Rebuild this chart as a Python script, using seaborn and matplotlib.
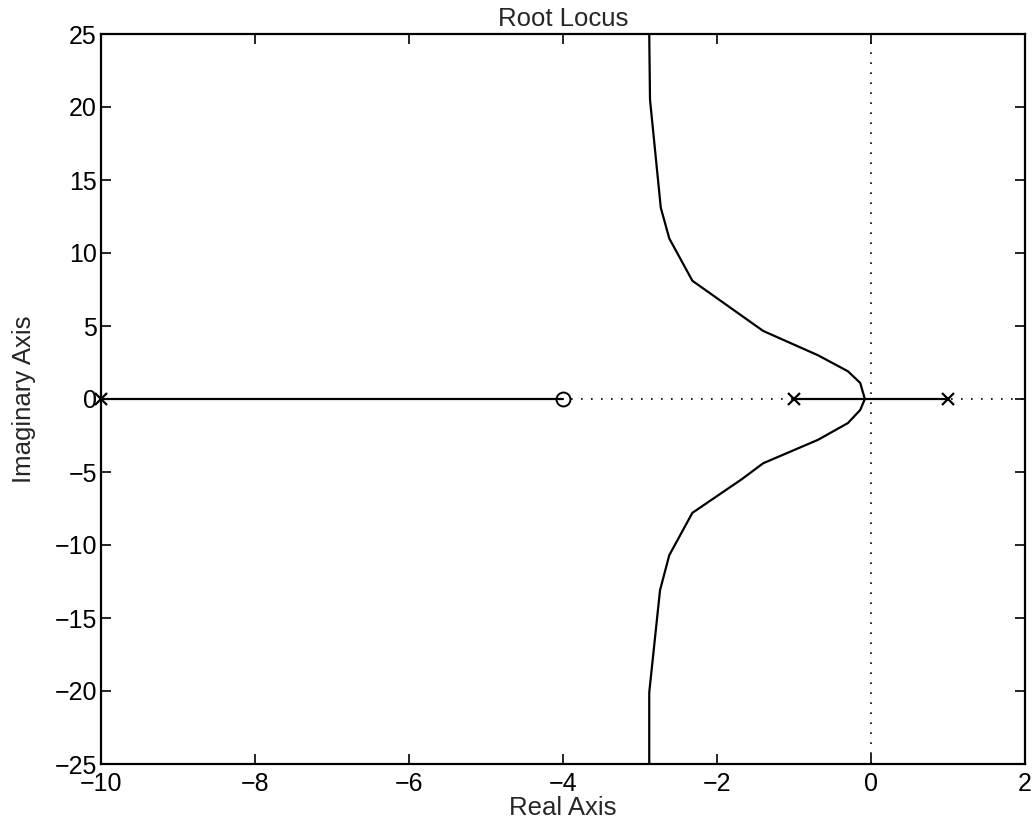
import matplotlib
matplotlib.use("Agg")
import matplotlib.pyplot as plt
import seaborn as sns
import pandas as pd

# Data
upper_re = [-2.88, -2.87, -2.73, -2.62, -2.32, -1.40, -0.69, -0.30, -0.14, -0.08]
upper_im = [25.0, 20.5, 13.1, 11.0, 8.1, 4.66, 3.0, 1.9, 1.1, 0.0]
lower_re = [-0.08, -0.14, -0.30, -0.69, -1.40, -1.68, -2.32, -2.62, -2.74, -2.88, -2.88]
lower_im = [0.0, -0.75, -1.65, -2.8, -4.4, -5.5, -7.8, -10.7, -13.1, -20.1, -25.0]
seg1_re = [-10.0, -4.0]
seg2_re = [-1.0, 1.0]
poles_re = [-10.0, -1.0, 1.0]
zeros_re = [-4.0]
xticks = [-10, -8, -6, -4, -2, 0, 2]
yticks = [-25, -20, -15, -10, -5, 0, 5, 10, 15, 20, 25]

sns.set_style("ticks")
plt.rcParams['font.family'] = ['Liberation Sans', 'DejaVu Sans']

fig = plt.figure(figsize=(10.35, 8.31), dpi=100)
ax = fig.add_axes([101/1035, 67/831, 924/1035, 730/831])

# dotted axis lines
ax.axhline(0, color='black', linestyle=(0, (1, 5)), linewidth=1.2, zorder=1)
ax.axvline(0, color='black', linestyle=(0, (1, 5)), linewidth=1.2, zorder=1)

kw = dict(color='black', linewidth=1.6, sort=False, estimator=None, ax=ax)
sns.lineplot(x=upper_re, y=upper_im, **kw)
sns.lineplot(x=lower_re, y=lower_im, **kw)
sns.lineplot(x=seg1_re, y=[0.0] * len(seg1_re), **kw)
sns.lineplot(x=seg2_re, y=[0.0] * len(seg2_re), **kw)

ax.plot(poles_re, [0.0] * len(poles_re), linestyle='none', marker='x',
        markersize=9, markeredgewidth=1.6, color='black', zorder=5, clip_on=False)
ax.plot(zeros_re, [0.0] * len(zeros_re), linestyle='none', marker='o',
        markersize=10, markerfacecolor='none', markeredgewidth=1.4,
        color='black', zorder=5)

ax.set_xlim(-10, 2)
ax.set_ylim(-25, 25)
ax.set_xticks(xticks)
ax.set_yticks(yticks)
ax.set_xticklabels([str(t).replace('-', '\u2212') for t in xticks])
ax.set_yticklabels([str(t).replace('-', '\u2212') for t in yticks])
ax.tick_params(direction='in', length=7, width=1.2, labelsize=18,
               top=True, right=True, colors='black', pad=3)
ax.tick_params(axis='x', pad=6)
for s in ax.spines.values():
    s.set_visible(True)
    s.set_linewidth(1.6)
    s.set_color('black')

ax.set_title("Root Locus", fontsize=18.5, pad=6)
ax.set_xlabel("Real Axis", fontsize=18.5, labelpad=0)
ax.set_ylabel("Imaginary Axis", fontsize=18.5, labelpad=13)

fig.savefig("out.png", dpi=100, facecolor='white')
